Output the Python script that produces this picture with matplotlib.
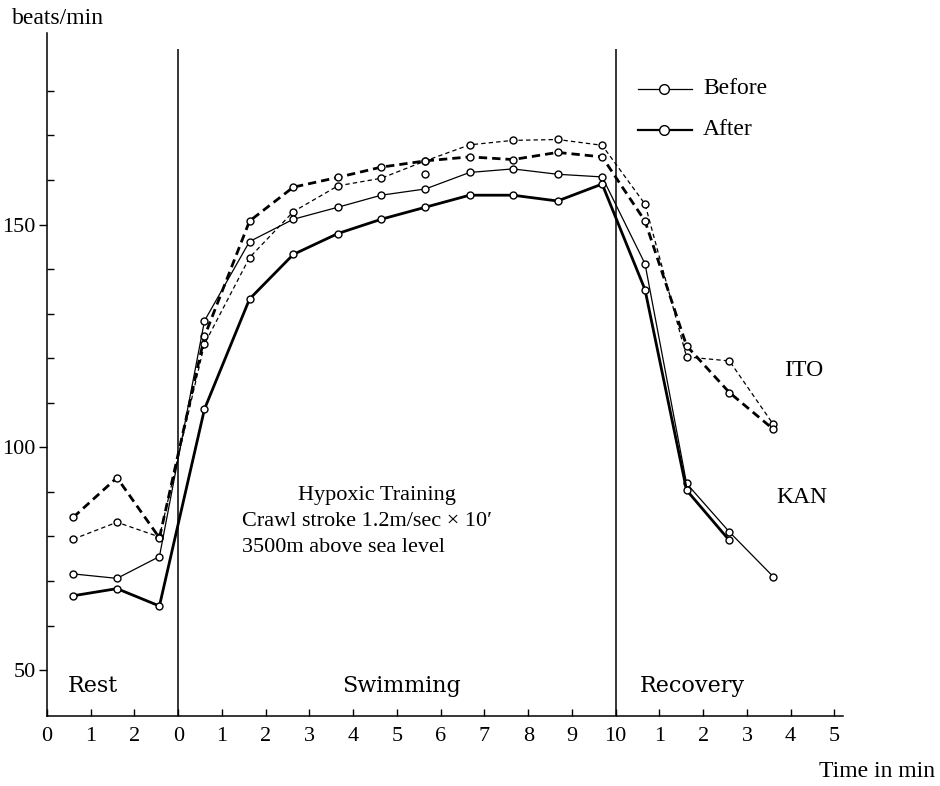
import numpy as np
import matplotlib.pyplot as plt
from matplotlib.ticker import FixedLocator

plt.rcParams['font.family'] = ['Liberation Serif', 'DejaVu Serif']

# time inside each phase (min) and heart rate (beats/min)
rest_t = [0.6, 1.6, 2.57]
swim_t = [0.6, 1.63, 2.63, 3.65, 4.64, 5.65, 6.66, 7.65, 8.67, 9.69]
rec_t = [0.67, 1.62, 2.6, 3.6]

ito_before = [79.4, 83.2, 79.9,
              123.2, 142.6, 152.9, 158.7, 160.4, 164.3, 167.9, 168.9, 169.1, 167.8,
              154.6, 120.3, 119.4, 105.2]
ito_after = [84.3, 93.2, 79.7,
             124.9, 150.8, 158.4, 160.6, 162.9, 164.3, 165.2, 164.6, 166.2, 165.2,
             150.8, 122.8, 112.3, 104.1]
kan_before = [71.6, 70.6, 75.5,
              128.4, 146.2, 151.2, 153.9, 156.6, 158.0, 161.7, 162.5, 161.3, 160.7,
              141.2, 91.9, 81.0, 71.0]
kan_after = [66.7, 68.3, 64.4,
             108.6, 133.3, 143.3, 148.0, 151.2, 153.9, 156.6, 156.6, 155.3, 159.1,
             135.4, 90.4, 79.1]
stray_t, stray_hr = 5.65, 161.3

xlabels = ['0', '1', '2', '0', '1', '2', '3', '4', '5', '6', '7', '8', '9', '10',
           '1', '2', '3', '4', '5']

# phases laid end to end: rest 0-3, swimming 3-13, recovery 13-18
t = np.concatenate([np.array(rest_t), np.array(swim_t) + 3, np.array(rec_t) + 13])

fig = plt.figure(figsize=(9.4, 7.86), dpi=100)
ax = fig.add_axes([0.05, 0.089, 0.847, 0.869])

mk = dict(marker='o', markersize=5, markerfacecolor='white',
          markeredgecolor='black', markeredgewidth=1.0, color='black')
ax.plot(t, ito_before, lw=0.9, dashes=(3.5, 2.5), **mk)
ax.plot(t, ito_after, lw=2.0, dashes=(3, 1.8), **mk)
ax.plot(t, kan_before, lw=0.9, **mk)
ax.plot(t[:len(kan_after)], kan_after, lw=2.0, **mk)
ax.plot([stray_t + 3], [stray_hr], linestyle='none', **mk)

ax.vlines([3, 13], 39.7, 189.5, color='black', lw=1.1)

ax.set_xlim(0, 18.2)
ax.set_ylim(39.7, 193)
ax.spines['top'].set_visible(False)
ax.spines['right'].set_visible(False)
ax.spines['left'].set_linewidth(1.1)
ax.spines['bottom'].set_linewidth(1.1)

ax.set_xticks(np.arange(19))
ax.set_xticklabels(xlabels, fontsize=16)
ax.tick_params(axis='x', direction='in', length=5, width=1, pad=8)
ax.set_yticks([50, 100, 150])
ax.set_yticklabels(['50', '100', '150'], fontsize=16)
ax.yaxis.set_minor_locator(FixedLocator([60, 70, 80, 90, 110, 120, 130, 140, 160, 170, 180]))
ax.tick_params(axis='y', which='major', direction='out', length=6, width=1, pad=2)
ax.tick_params(axis='y', which='minor', direction='in', length=5, width=1)

phase = dict(fontsize=16, ha='center', va='center', family=['DejaVu Serif'])
ax.text(1.05, 46.5, 'Rest', **phase)
ax.text(8.1, 46.5, 'Swimming', **phase)
ax.text(14.75, 46.5, 'Recovery', **phase)

ax.text(7.55, 89.3, 'Hypoxic Training', fontsize=16, ha='center', va='center')
ax.text(4.45, 83.4, "Crawl stroke 1.2m/sec \u00d7 10\u2032", fontsize=16, ha='left', va='center')
ax.text(4.45, 77.6, '3500m above sea level', fontsize=16, ha='left', va='center')

ax.text(17.3, 117.2, 'ITO', fontsize=17, ha='center', va='center')
ax.text(17.25, 88.7, 'KAN', fontsize=17, ha='center', va='center')

# legend drawn by hand in the upper right
ax.plot([13.5, 14.75], [180.5, 180.5], lw=0.9, color='black')
ax.plot([14.1], [180.5], linestyle='none', markersize=7, marker='o',
        markerfacecolor='white', markeredgecolor='black', markeredgewidth=1.0)
ax.text(15.0, 180.5, 'Before', fontsize=17, ha='left', va='center')
ax.plot([13.5, 14.75], [171.3, 171.3], lw=1.6, color='black')
ax.plot([14.1], [171.3], linestyle='none', markersize=7, marker='o',
        markerfacecolor='white', markeredgecolor='black', markeredgewidth=1.0)
ax.text(15.0, 171.3, 'After', fontsize=17, ha='left', va='center')

fig.text(0.013, 0.977, 'beats/min', fontsize=17, ha='left', va='center')
fig.text(0.995, 0.018, 'Time in min', fontsize=17, ha='right', va='center')

fig.savefig('out.png', dpi=100)
